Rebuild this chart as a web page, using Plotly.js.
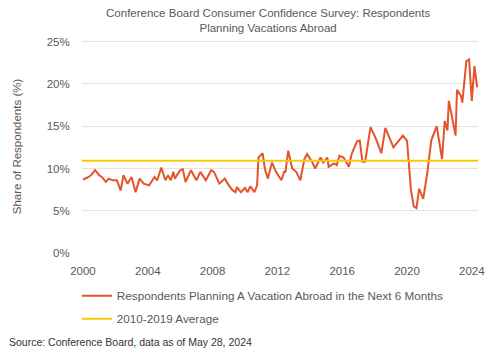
<!DOCTYPE html>
<html>
<head>
<meta charset="utf-8">
<script src="https://cdn.plot.ly/plotly-3.0.1.min.js"></script>
<style>html,body{margin:0;padding:0;background:#fff;}#chart{width:500px;height:353px;}</style>
</head>
<body>
<div id="chart"></div>
<script>
const months = [
 '2000-01','2000-04','2000-07','2000-10','2001-01','2001-03','2001-06','2001-08','2001-11',
 '2002-02','2002-05','2002-07','2002-10','2003-01','2003-04','2003-07','2003-10',
 '2004-02','2004-06','2004-08','2004-11','2005-02','2005-04','2005-06','2005-08','2005-09',
 '2006-01','2006-03','2006-05','2006-09','2007-01','2007-04','2007-08','2007-12',
 '2008-02','2008-06','2008-10','2009-01','2009-04','2009-06','2009-07','2009-10',
 '2010-01','2010-03','2010-05','2010-08','2010-10','2010-11','2011-02','2011-04','2011-06','2011-09','2011-12',
 '2012-04','2012-06','2012-07','2012-09','2012-12','2013-03','2013-06','2013-09','2013-11',
 '2014-03','2014-05','2014-09','2014-11','2015-02','2015-03','2015-07','2015-09','2015-11',
 '2016-02','2016-06','2016-08','2016-12','2017-02','2017-04','2017-06','2017-10',
 '2018-02','2018-06','2018-09','2019-03','2019-10','2020-01','2020-04','2020-06','2020-08','2020-10',
 '2021-01','2021-04','2021-07','2021-11','2022-03','2022-05','2022-07','2022-08',
 '2023-01','2023-02','2023-05','2023-06','2023-09','2023-11','2024-01','2024-03','2024-05'
];
const sharePlanning = [
 8.7,8.9,9.2,9.8,9.2,9.0,8.4,8.8,8.6,
 8.6,7.4,9.2,8.2,9.0,7.2,8.8,8.2,
 8.0,9.0,8.6,10.1,8.6,9.2,8.6,9.6,8.8,
 9.8,9.9,8.4,9.8,8.6,9.6,8.6,9.8,
 9.6,8.2,8.8,8.0,7.4,7.2,7.8,7.2,
 7.7,7.2,7.9,7.2,8.0,11.3,11.8,9.8,8.8,10.7,9.6,
 8.6,9.6,9.6,12.1,10.0,9.6,8.6,11.1,11.7,
 10.7,10.0,11.3,10.7,11.3,10.2,10.6,10.4,11.5,
 11.3,10.2,11.7,13.2,13.3,10.8,10.8,14.9,
 13.5,11.8,14.8,12.5,13.9,13.3,7.4,5.5,5.3,7.6,
 6.4,9.4,13.3,15.0,11.1,15.6,14.5,18.0,
 13.9,19.3,18.6,17.8,22.7,22.9,18.0,22.1,19.6
];
const avgPeriod = ['1999-12-10','2024-05-20'];
const avg2010to2019 = [10.9, 10.9];
const yTicks = [0,5,10,15,20,25];
const yTickText = ['0%','5%','10%','15%','20%','25%'];

const traces = [
 {x: months, y: sharePlanning, type:'scatter', mode:'lines', legendgroup:'a',
  name:'Respondents Planning A Vacation Abroad in the Next 6 Months',
  line:{color:'#E5532B', width:2}},
 {x: avgPeriod, y: avg2010to2019, type:'scatter', mode:'lines', legendgroup:'b',
  name:'2010-2019 Average',
  line:{color:'#F6C90E', width:2}}
];
const font = 'Liberation Sans, Arial, sans-serif';
const layout = {
 width:500, height:353,
 margin:{l:82, r:22, t:40, b:100},
 paper_bgcolor:'#fff', plot_bgcolor:'#fff',
 font:{family:font, size:11, color:'#595959'},
 title:{text:'Conference Board Consumer Confidence Survey: Respondents<br>Planning Vacations Abroad',
   font:{family:font, size:11.5, color:'#595959'}, x:0.47, xref:'paper', xanchor:'center',
   yref:'container', y:0.951, yanchor:'middle'},
 xaxis:{type:'date', range:['1999-12-10','2024-05-20'], tick0:'2000-01-01', dtick:'M48', tickformat:'%Y',
   showgrid:false, zeroline:false, showline:false, ticks:'outside', ticklen:7, tickcolor:'rgba(0,0,0,0)',
   tickfont:{size:11.5, color:'#595959'}},
 yaxis:{range:[0,25.2], tickvals:yTicks, ticktext:yTickText, showgrid:true, gridcolor:'#e3e3e3', gridwidth:1,
   zeroline:false, showline:false, ticks:'outside', ticklen:9, tickcolor:'rgba(0,0,0,0)',
   tickfont:{size:11.5, color:'#595959'},
   title:{text:'Share of Respondents (%)', font:{size:11.5, color:'#595959'}, standoff:22}},
 showlegend:true,
 legend:{orientation:'v', x:-0.013, xanchor:'left', y:-0.133, yanchor:'top', font:{size:11.7, color:'#595959'},
   tracegroupgap:4, bgcolor:'rgba(0,0,0,0)'},
 annotations:[{text:'Source: Conference Board, data as of May 28, 2024', xref:'paper', yref:'paper',
   x:-0.19, y:-0.38, xanchor:'left', yanchor:'top', showarrow:false, font:{size:10.5, color:'#333'}}]
};
Plotly.newPlot('chart', traces, layout, {displayModeBar:false, staticPlot:true});
</script>
</body>
</html>
